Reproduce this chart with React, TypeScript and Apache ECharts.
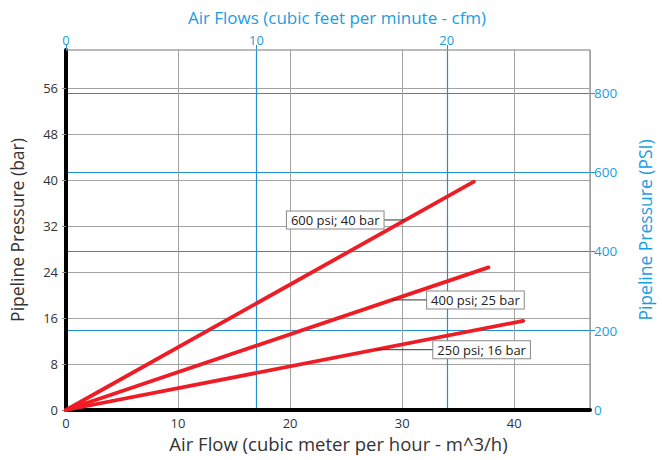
import React, { useEffect, useRef } from 'react';
import * as echarts from 'echarts';

// Axis ranges
const FLOW_MAX_M3H = 46.76; // right edge of the plot, m^3/h
const M3H_PER_CFM = 1.699;
const PSI_PER_BAR = 14.5038;
const BAR_MAX = 62.6; // top edge of the plot, bar

// Tick values
const barGridStep = 4;
const barTicks = [0, 8, 16, 24, 32, 40, 48, 56];
const psiTicks = [0, 200, 400, 600, 800];
const m3hTicks = [0, 10, 20, 30, 40];
const cfmTicks = [0, 10, 20];

// Series: [m^3/h, bar]
const line600 = [[0, 0], [36.4, 39.7]];
const line400 = [[0, 0], [37.7, 24.8]];
const line250 = [[0, 0], [40.8, 15.5]];

const labelTexts = ['600 psi; 40 bar', '400 psi; 25 bar', '250 psi; 16 bar'];
const labelAnchorFlow = [30.3, 29.1, 27.6];

const BLUE = '#1f8fd6';
const BLUE_TEXT = '#1a9de0';
const GRAY = '#a3a3a3';
const RED = '#ee1c25';
const FONT = "'Open Sans', sans-serif";

function interp(line: number[][], x: number) {
  const [a, b] = line;
  return a[1] + (b[1] - a[1]) * (x - a[0]) / (b[0] - a[0]);
}

export default function App() {
  const ref = useRef<HTMLDivElement>(null);
  useEffect(() => {
    if (!ref.current) return;
    const chart = echarts.init(ref.current, null, { renderer: 'svg' });
    const option: any = {
      animation: false,
      textStyle: { fontFamily: FONT },
      grid: {
        left: 66, right: 70, top: 50, bottom: 50,
        show: true, borderColor: GRAY, borderWidth: 1, backgroundColor: '#fff',
      },
      xAxis: [
        {
          type: 'value', position: 'bottom', min: 0, max: FLOW_MAX_M3H, interval: 10,
          axisLine: { show: true, onZero: false, lineStyle: { color: '#000', width: 4 } },
          axisTick: { show: false },
          axisLabel: { color: '#333', fontSize: 13, margin: 6, fontFamily: FONT, customValues: m3hTicks },
          splitLine: { show: true, customValues: m3hTicks.slice(1), lineStyle: { color: GRAY, width: 1 } },
          name: 'Air Flow (cubic meter per hour - m^3/h)',
          nameLocation: 'middle', nameGap: 21,
          nameTextStyle: { color: '#333', fontSize: 18.5, fontFamily: FONT, padding: [0, 0, 0, 21] },
        },
        {
          type: 'value', position: 'top', min: 0, max: FLOW_MAX_M3H / M3H_PER_CFM, interval: 10,
          axisLine: { show: false, onZero: false },
          axisTick: { show: true, length: 5, customValues: cfmTicks, lineStyle: { color: BLUE } },
          axisLabel: { color: BLUE_TEXT, fontSize: 13, margin: 4, fontFamily: FONT, customValues: cfmTicks },
          splitLine: { show: true, customValues: cfmTicks.slice(1), lineStyle: { color: BLUE, width: 1.2 } },
          name: 'Air Flows (cubic feet per minute - cfm)',
          nameLocation: 'middle', nameGap: 24,
          nameTextStyle: { color: BLUE_TEXT, fontSize: 17, fontFamily: FONT, padding: [0, 0, 0, 18] },
        },
      ],
      yAxis: [
        {
          type: 'value', position: 'left', min: 0, max: BAR_MAX, interval: barGridStep,
          axisLine: { show: true, onZero: false, lineStyle: { color: '#000', width: 4 } },
          axisTick: { show: true, length: 4, customValues: barTicks, lineStyle: { color: '#888' } },
          axisLabel: { color: '#333', fontSize: 13, margin: 8, fontFamily: FONT, customValues: barTicks },
          splitLine: { show: true, lineStyle: { color: GRAY, width: 1 } },
          name: 'Pipeline Pressure (bar)',
          nameLocation: 'middle', nameGap: 40,
          nameTextStyle: { color: '#333', fontSize: 17.5, fontFamily: FONT },
        },
        {
          type: 'value', position: 'right', min: 0, max: BAR_MAX * PSI_PER_BAR, interval: 200,
          axisLine: { show: false, onZero: false },
          axisTick: { show: true, length: 5, customValues: psiTicks.slice(1), lineStyle: { color: BLUE } },
          axisLabel: { color: BLUE_TEXT, fontSize: 13.5, margin: 4, fontFamily: FONT, customValues: psiTicks },
          splitLine: { show: true, customValues: psiTicks.slice(1), lineStyle: { color: BLUE, width: 1.2 } },
          name: 'Pipeline Pressure (PSI)',
          nameLocation: 'middle', nameGap: 46,
          nameTextStyle: { color: BLUE_TEXT, fontSize: 17.5, fontFamily: FONT },
        },
      ],
      series: [line600, line400, line250].map((d, i) => ({
        type: 'line', name: labelTexts[i], xAxisIndex: 0, yAxisIndex: 0,
        data: d, symbol: 'none', z: 5,
        lineStyle: { color: RED, width: 3.8, cap: 'round' },
      })),
    };
    chart.setOption(option);

    const graphics: any[] = [];
    // gray top and right borders drawn over any edge split line
    const c00 = chart.convertToPixel({ xAxisIndex: 0, yAxisIndex: 0 }, [0, 0]) as number[];
    const cMax = chart.convertToPixel({ xAxisIndex: 0, yAxisIndex: 0 }, [FLOW_MAX_M3H, BAR_MAX]) as number[];
    graphics.push({
      type: 'line', z: 9,
      shape: { x1: c00[0], y1: cMax[1], x2: cMax[0], y2: cMax[1] },
      style: { stroke: GRAY, lineWidth: 1.2 },
    });
    graphics.push({
      type: 'line', z: 9,
      shape: { x1: cMax[0], y1: cMax[1], x2: cMax[0], y2: c00[1] - 2 },
      style: { stroke: GRAY, lineWidth: 1.2 },
    });

    const lines = [line600, line400, line250];
    const placement = [
      { dx: -22, align: 'right' },
      { dx: 35, align: 'left' },
      { dx: 58, align: 'left' },
    ];
    lines.forEach((ln, i) => {
      const fx = labelAnchorFlow[i];
      const p = chart.convertToPixel({ xAxisIndex: 0, yAxisIndex: 0 }, [fx, interp(ln, fx)]) as number[];
      const edgeX = p[0] + placement[i].dx;
      graphics.push({
        type: 'line', z: 10,
        shape: { x1: p[0], y1: p[1], x2: edgeX, y2: p[1] },
        style: { stroke: '#333', lineWidth: 1 },
      });
      graphics.push({
        type: 'text', z: 11, x: edgeX, y: p[1],
        style: {
          text: labelTexts[i], fill: '#222', font: `13px ${FONT}`,
          align: placement[i].align, verticalAlign: 'middle',
          backgroundColor: '#fff', borderColor: '#888', borderWidth: 1, padding: [2, 4, 2, 4],
        },
      });
    });
    chart.setOption({ graphic: graphics });

    return () => chart.dispose();
  }, []);
  return <div ref={ref} style={{ width: 662, height: 460, position: 'absolute', left: 0, top: 0 }} />;
}
